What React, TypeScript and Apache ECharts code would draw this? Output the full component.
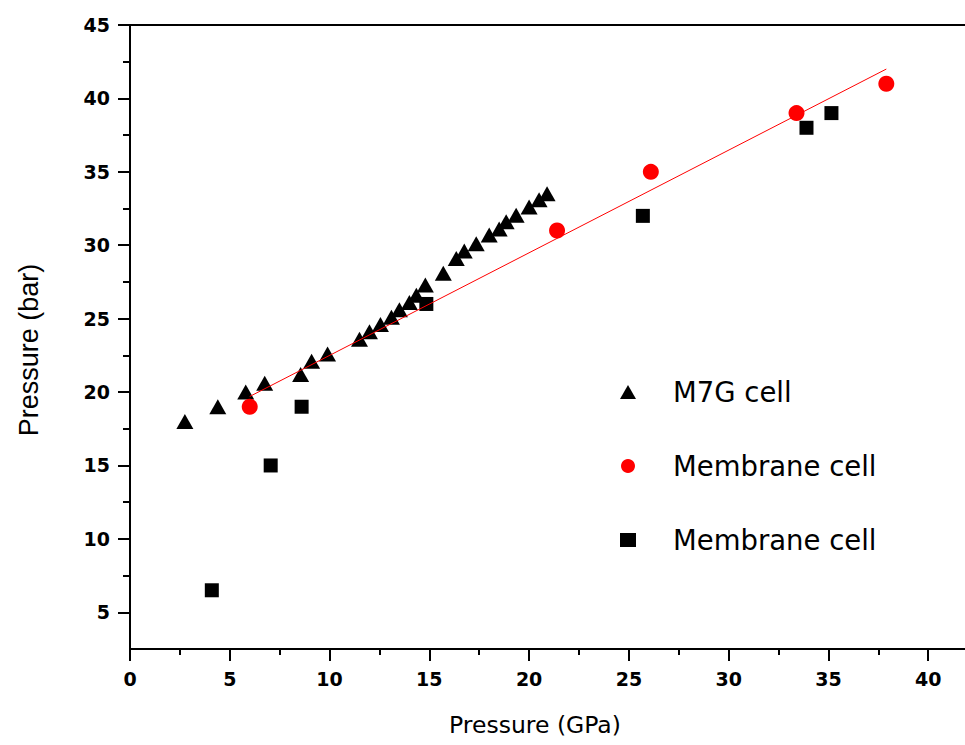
import React, { useEffect, useRef } from 'react';
import * as echarts from 'echarts';

// M7G cell (triangles)
const m7gX = [2.75, 4.4, 5.8, 6.75, 8.55, 9.1, 9.9, 11.5, 12.0, 12.55, 13.1, 13.5, 14.0, 14.35, 14.8, 15.7, 16.35, 16.75, 17.35, 18.0, 18.5, 18.85, 19.35, 20.0, 20.5, 20.9];
const m7gY = [18.0, 19.0, 20.0, 20.6, 21.2, 22.1, 22.6, 23.6, 24.1, 24.6, 25.1, 25.6, 26.1, 26.6, 27.3, 28.1, 29.1, 29.6, 30.1, 30.7, 31.1, 31.6, 32.05, 32.6, 33.1, 33.5];

// Membrane cell (red circles)
const redX = [6.0, 21.4, 26.1, 33.4, 37.9];
const redY = [19.0, 31.0, 35.0, 39.0, 41.0];

// Membrane cell (black squares)
const sqX = [4.1, 7.05, 8.6, 14.85, 25.7, 33.9, 35.15];
const sqY = [6.5, 15.0, 19.0, 26.0, 32.0, 38.0, 39.0];

// Linear fit line through the red points (end points)
const fitX = [6.0, 37.9];
const fitY = [19.7, 42.0];

// Axis ticks
const xTickLabels = [0, 5, 10, 15, 20, 25, 30, 35, 40];
const yMajorTicks = [5, 10, 15, 20, 25, 30, 35, 40, 45];
const yMinorTicks = [7.5, 12.5, 17.5, 22.5, 27.5, 32.5, 37.5, 42.5];

const legendNames = ['M7G cell', 'Membrane cell (circles)', 'Membrane cell (squares)'];

const pairs = (xs: number[], ys: number[]) => xs.map((x, i) => [x, ys[i]]);

export default function App() {
  const ref = useRef<HTMLDivElement>(null);
  useEffect(() => {
    if (!ref.current) return;
    const chart = echarts.init(ref.current, null, { renderer: 'svg' });
    const black = '#000';
    const axisLineStyle = { color: black, width: 2 };
    const tickLabel = {
      color: black,
      fontFamily: 'DejaVu Sans',
      fontWeight: 'bold' as const,
      fontSize: 19,
      margin: 20,
    };
    chart.setOption({
      animation: false,
      backgroundColor: '#fff',
      grid: {
        left: 130,
        top: 25,
        width: 898,
        height: 624,
        outerBoundsMode: 'none',
        containLabel: false,
        show: true,
        borderColor: black,
        borderWidth: 2,
        backgroundColor: 'transparent',
      },
      legend: {
        orient: 'vertical',
        left: 620,
        top: 378,
        padding: 0,
        itemWidth: 16,
        itemHeight: 14,
        itemGap: 46,
        selectedMode: false,
        data: [
          { name: legendNames[0], icon: 'triangle' },
          { name: legendNames[1], icon: 'circle' },
          { name: legendNames[2], icon: 'rect' },
        ],
        formatter: (n: string) => (n.startsWith('Membrane') ? 'Membrane cell' : n),
        textStyle: {
          fontFamily: 'DejaVu Sans',
          fontSize: 27.5,
          lineHeight: 27.5,
          color: black,
          padding: [0, 0, 0, 32],
        },
      },
      xAxis: [
        {
          type: 'value',
          min: 0,
          max: 45,
          interval: 5,
          position: 'bottom',
          axisLine: { onZero: false, lineStyle: axisLineStyle },
          axisTick: { length: 12, lineStyle: axisLineStyle },
          minorTick: { show: true, splitNumber: 2, length: 6, lineStyle: axisLineStyle },
          splitLine: { show: false },
          minorSplitLine: { show: false },
          axisLabel: { ...tickLabel, customValues: xTickLabels },
          name: 'Pressure (GPa)',
          nameLocation: 'middle',
          nameGap: 64,
          nameTextStyle: {
            fontFamily: 'DejaVu Sans',
            fontSize: 23.5,
            color: black,
            padding: [0, 88, 0, 0],
          },
        },
      ],
      yAxis: [
        {
          type: 'value',
          min: 2.5,
          max: 45,
          interval: 2.5,
          position: 'left',
          axisLine: { onZero: false, lineStyle: axisLineStyle },
          axisTick: { length: 12, lineStyle: axisLineStyle, customValues: yMajorTicks },
          splitLine: { show: false },
          axisLabel: { ...tickLabel, customValues: yMajorTicks },
          name: 'Pressure (bar)',
          nameLocation: 'middle',
          nameGap: 88,
          nameRotate: 90,
          nameTextStyle: {
            fontFamily: 'Liberation Sans',
            fontSize: 27,
            color: black,
            padding: [0, 26, 0, 0],
          },
        },
        {
          type: 'value',
          min: 2.5,
          max: 45,
          interval: 2.5,
          position: 'left',
          offset: 0,
          axisLine: { show: false },
          axisLabel: { show: false },
          splitLine: { show: false },
          axisTick: { show: true, length: 7, lineStyle: axisLineStyle, customValues: yMinorTicks },
        },
      ],
      series: [
        {
          type: 'scatter',
          name: legendNames[2],
          data: pairs(sqX, sqY),
          symbol: 'rect',
          symbolSize: 14,
          itemStyle: { color: black, opacity: 1 },
        },
        {
          type: 'scatter',
          name: legendNames[0],
          data: pairs(m7gX, m7gY),
          symbol: 'triangle',
          symbolSize: [17, 15],
          itemStyle: { color: black, opacity: 1 },
        },
        {
          type: 'scatter',
          name: legendNames[1],
          data: pairs(redX, redY),
          symbol: 'circle',
          symbolSize: 16,
          itemStyle: { color: '#ff0000', opacity: 1 },
        },
        {
          type: 'line',
          data: pairs(fitX, fitY),
          symbol: 'none',
          lineStyle: { color: '#ff0000', width: 1 },
        },
      ],
    });
    return () => chart.dispose();
  }, []);
  return (
    <div
      ref={ref}
      style={{ position: 'absolute', left: 0, top: 0, width: 965, height: 745 }}
    />
  );
}
